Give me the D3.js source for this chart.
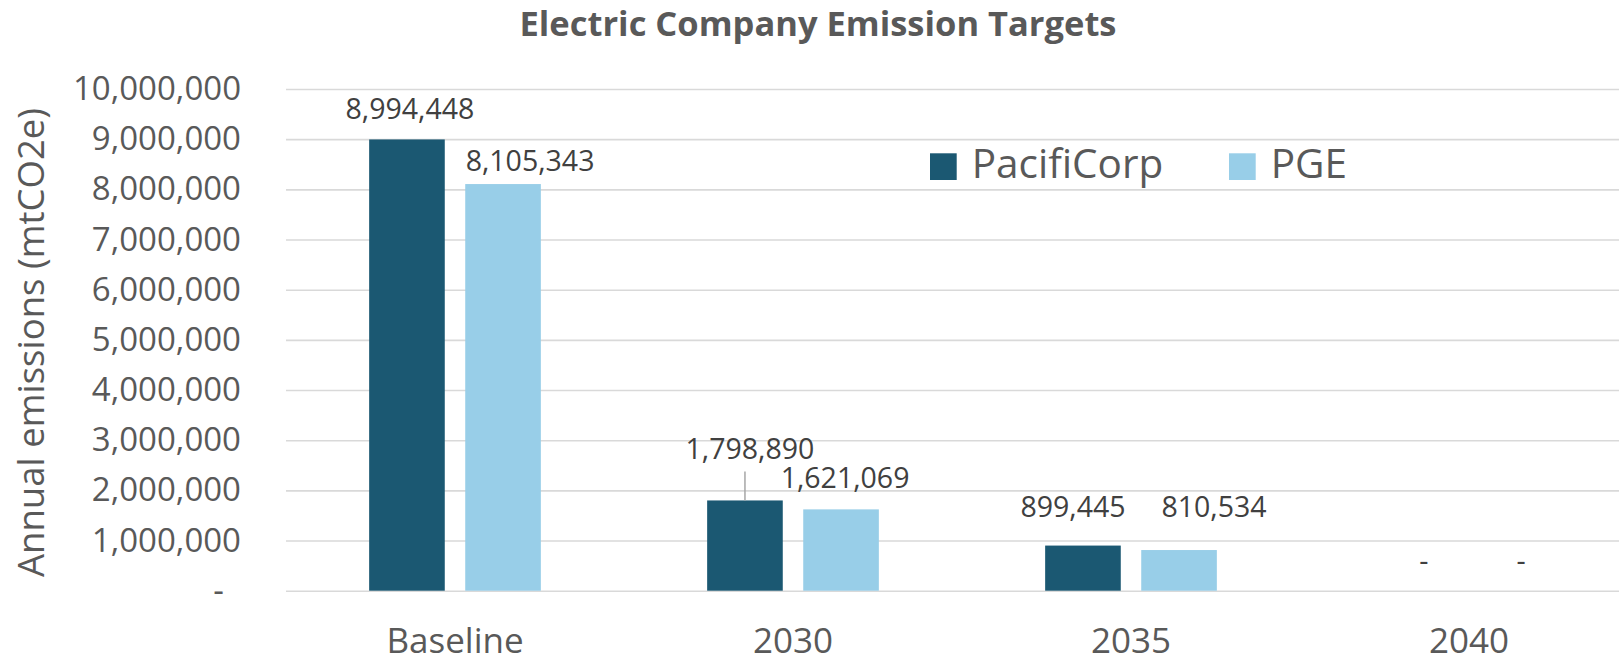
<!DOCTYPE html>
<html lang="en">

<head>
  <meta charset="UTF-8">
  <title>Electric Company Emission Targets</title>
  <script src="https://d3js.org/d3.v7.min.js"></script>
  <style>
    body { margin: 0; background: #fff; }
    text { font-family: "Open Sans", sans-serif; }
  </style>
</head>

<body>
  <div id="root"></div>
  <script>
    // chart data
    const categories = ['Baseline', '2030', '2035', '2040'];
    const seriesNames = ['PacifiCorp', 'PGE'];
    const pacifiCorp = [8994448, 1798890, 899445, 0];
    const pge = [8105343, 1621069, 810534, 0];
    const yTicks = [0, 1000000, 2000000, 3000000, 4000000, 5000000, 6000000, 7000000, 8000000, 9000000, 10000000];
    const colors = ['#1b5872', '#98cee8'];

    // hand-placed label nudges from the original (dx, dy), per series then category
    const labelNudge = [
      [[3, 0], [5, -21], [-10, -9], [3, 0]],
      [[27, 7], [4, -1], [35, -13], [4, 0]]
    ];

    const width = 1619, height = 662;
    const margin = { top: 89, left: 286, bottom: 662 - 590.7 };
    const plotRight = 1638;

    const svg = d3.select('#root').append('svg')
      .attr('width', width).attr('height', height);

    const x0 = d3.scaleBand().domain(categories).range([margin.left, plotRight]);
    const groupW = 171.7;
    const x1 = d3.scaleBand().domain(seriesNames).range([0, groupW]).paddingInner(0.213);
    const y = d3.scaleLinear().domain([0, 10000000]).range([height - margin.bottom, margin.top]);

    const fmt = d3.format(',');

    // gridlines + y labels
    const yAxis = d3.axisLeft(y).tickValues(yTicks)
      .tickSize(-(plotRight - margin.left))
      .tickPadding(45)
      .tickFormat(d => d === 0 ? '-\u00a0\u00a0' : fmt(d));
    const gy = svg.append('g').attr('transform', `translate(${margin.left},0)`).call(yAxis);
    gy.select('.domain').remove();
    gy.selectAll('.tick line').attr('stroke', '#d9d9d9').attr('stroke-width', 1.6);
    gy.selectAll('.tick text')
      .attr('fill', '#595959')
      .style('font-size', '33px')
      .attr('x', -45);

    // x labels
    svg.append('g').selectAll('text').data(categories).join('text')
      .attr('x', d => x0(d) + x0.bandwidth() / 2)
      .attr('y', 652.5)
      .attr('text-anchor', 'middle')
      .attr('fill', '#595959')
      .style('font-size', '35px')
      .text(d => d);

    const rows = categories.map((c, i) => ({
      cat: c,
      vals: [pacifiCorp[i], pge[i]]
    }));

    const offset = (x0.bandwidth() - groupW) / 2;

    const groups = svg.append('g').selectAll('g').data(rows).join('g')
      .attr('transform', d => `translate(${x0(d.cat) + offset},0)`);

    groups.selectAll('rect').data(d => d.vals.map((v, s) => ({ v, s })))
      .join('rect')
      .attr('x', d => x1(seriesNames[d.s]))
      .attr('width', x1.bandwidth())
      .attr('y', d => y(d.v))
      .attr('height', d => y(0) - y(d.v))
      .attr('fill', d => colors[d.s]);

    // data labels
    const labels = [];
    rows.forEach((r, ci) => {
      r.vals.forEach((v, s) => {
        const cx = x0(r.cat) + offset + x1(seriesNames[s]) + x1.bandwidth() / 2;
        const n = labelNudge[s][ci];
        labels.push({ v, cx, top: y(v), lx: cx + n[0], ly: y(v) - 20 + n[1] });
      });
    });

    // leader line where the label was pulled far off its bar
    labels.filter(d => d.top - d.ly > 35).forEach(d => {
      svg.append('line')
        .attr('x1', d.cx).attr('x2', d.cx)
        .attr('y1', d.ly + 12).attr('y2', d.top)
        .attr('stroke', '#a6a6a6').attr('stroke-width', 1.5);
    });

    svg.append('g').selectAll('text').data(labels).join('text')
      .attr('x', d => d.lx)
      .attr('y', d => d.ly)
      .attr('text-anchor', 'middle')
      .attr('fill', '#404040')
      .style('font-size', '28.5px')
      .text(d => d.v === 0 ? '-' : fmt(d.v));

    // title
    svg.append('text')
      .attr('x', 818).attr('y', 36)
      .attr('text-anchor', 'middle')
      .attr('fill', '#595959')
      .style('font-weight', 'bold')
      .style('font-size', '34.5px')
      .text('Electric Company Emission Targets');

    // y axis title
    svg.append('text')
      .attr('transform', 'translate(44,342.5) rotate(-90)')
      .attr('text-anchor', 'middle')
      .attr('fill', '#595959')
      .style('font-size', '36.5px')
      .text('Annual emissions (mtCO2e)');

    // legend
    const legendX = [930, 1229];
    const legend = svg.append('g').selectAll('g').data(seriesNames).join('g')
      .attr('transform', (d, i) => `translate(${legendX[i]},153.3)`);
    legend.append('rect')
      .attr('width', 26.7).attr('height', 26.7)
      .attr('fill', (d, i) => colors[i]);
    legend.append('text')
      .attr('x', 41.7).attr('y', 25)
      .attr('fill', '#595959')
      .style('font-size', '40.5px')
      .text(d => d);
  </script>
</body>

</html>
